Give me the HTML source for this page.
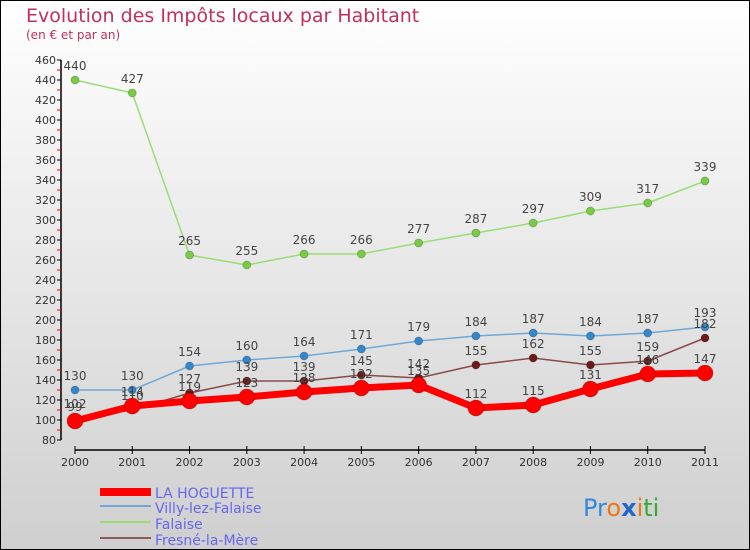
<!DOCTYPE html>
<html><head><meta charset="utf-8"><style>
body{margin:0;width:750px;height:550px;overflow:hidden}
svg{display:block;font-family:"DejaVu Sans","Liberation Sans",sans-serif}
</style></head><body>
<svg id="c" width="750" height="550" xmlns="http://www.w3.org/2000/svg">
<defs><linearGradient id="bg" x1="0" y1="0" x2="0" y2="1"><stop offset="0" stop-color="#ffffff"/><stop offset="1" stop-color="#cfcfcf"/></linearGradient></defs>
<rect x="0.5" y="0.5" width="749" height="549" fill="url(#bg)" stroke="#000"/>
<text x="26" y="22" font-size="19" fill="#c0305a">Evolution des Impôts locaux par Habitant</text>
<text x="26" y="39" font-size="12" fill="#c0305a">(en € et par an)</text>
<g id="axes"></g><g id="plot"></g>
<g>
<rect x="100" y="488" width="51" height="8" fill="#f00"/>
<rect x="100" y="505" width="51" height="2" fill="#6fa8d8"/>
<rect x="100" y="521" width="51" height="2" fill="#99dd77"/>
<rect x="100" y="537" width="51" height="2" fill="#8b5a5a"/>
<g font-size="14" fill="#6666ee">
<text x="155" y="498">LA HOGUETTE</text>
<text x="155" y="513">Villy-lez-Falaise</text>
<text x="155" y="529">Falaise</text>
<text x="155" y="545">Fresné-la-Mère</text>
</g></g>
<text x="583" y="516" font-size="24"><tspan fill="#3388dd">Pr</tspan><tspan fill="#ee7711">o</tspan><tspan fill="#2266cc" font-weight="bold">x</tspan><tspan fill="#ee7711">i</tspan><tspan fill="#33aa33">ti</tspan></text>
</svg>
<script>
const years=["2000","2001","2002","2003","2004","2005","2006","2007","2008","2009","2010","2011"];
const hoguette=[99,114,119,123,128,132,135,112,115,131,146,147];
const villy=[130,130,154,160,164,171,179,184,187,184,187,193];
const falaise=[440,427,265,255,266,266,277,287,297,309,317,339];
const fresne=[102,110,127,139,139,145,142,155,162,155,159,182];
const yTicks=[80,100,120,140,160,180,200,220,240,260,280,300,320,340,360,380,400,420,440,460];
const NS="http://www.w3.org/2000/svg";
const xs=i=>75+i*(630/11);
const ys=v=>440-(v-80)*(380/380);
function mk(t,a,p){const e=document.createElementNS(NS,t);for(const k in a)e.setAttribute(k,a[k]);p.appendChild(e);return e;}
const ax=document.getElementById('axes'),pl=document.getElementById('plot');
const ya=mk('line',{x1:61,y1:60,x2:61,y2:440,stroke:'#000','stroke-width':1.5},ax);


yTicks.forEach(v=>{
 const t=mk('line',{x1:57,x2:61,y1:ys(v),y2:ys(v),stroke:'#000'},ax);
 
 
 if(v<460){const m=mk('line',{x1:57,x2:61,y1:ys(v+10),y2:ys(v+10),stroke:'#f00'},ax);
 
 }
 const l=mk('text',{x:56,y:ys(v)+4,'font-size':11,fill:'#333','text-anchor':'end'},ax);
 l.textContent=v;
 
 
});
const xa=mk('line',{x1:75,y1:450,x2:705,y2:450,stroke:'#000','stroke-width':1.5},ax);


years.forEach((y,i)=>{
 const t=mk('line',{x1:xs(i),x2:xs(i),y1:446,y2:454,stroke:'#000'},ax);
 
 
 const l=mk('text',{x:xs(i),y:466,'font-size':11,fill:'#333','text-anchor':'middle'},ax);
 l.textContent=y;
 
 
});
function series(name,vals,color,w,r,dot){
 const g=mk('g',{},pl);
 
 
 const p=mk('polyline',{points:vals.map((v,i)=>xs(i)+','+ys(v)).join(' '),fill:'none',stroke:color,'stroke-width':w,'stroke-linejoin':'round'},g);
 
 
 vals.forEach((v,i)=>{
  const c=mk('circle',{cx:xs(i),cy:ys(v),r:r,fill:dot,stroke:'rgba(0,0,0,0.2)'},g);
  
  
  const l=mk('text',{x:xs(i),y:ys(v)-10,'font-size':12,fill:'#444','text-anchor':'middle'},g);
  l.textContent=v;
  
  
 });
}
series('falaise',falaise,'#99dd77',1.5,4,'#77cc44');
series('villy',villy,'#6fa8d8',1.5,4,'#3388cc');
series('fresne',fresne,'#8b4a4a',1.5,4,'#6b1a1a');
series('la-hoguette',hoguette,'#f00',7,8,'#f00');
</script>
</body></html>
